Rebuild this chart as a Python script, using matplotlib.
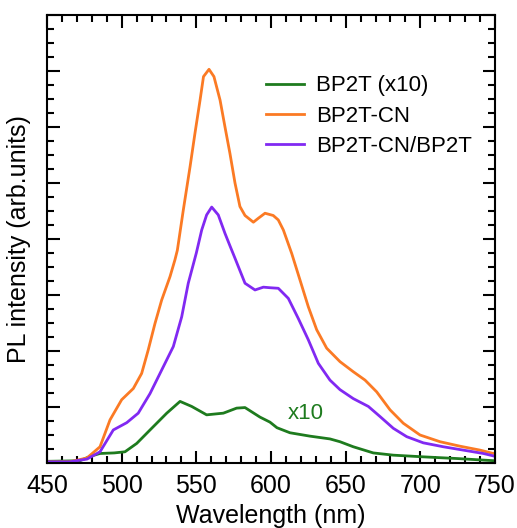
import matplotlib.pyplot as plt
from matplotlib.ticker import MultipleLocator

plt.rcParams['font.family'] = ['Liberation Sans', 'DejaVu Sans']

# BP2T (x10)
wl_bp2t = [450, 472, 479, 485.5, 495, 502.2, 510.1, 519, 530.2, 539.1, 546.9, 556.9,
           568.1, 577, 582.6, 592.6, 599.3, 604, 612.7, 626, 639.5, 646.2, 655.1,
           668.5, 681.9, 702, 724.4, 750]
pl_bp2t = [0.03, 0.04, 0.12, 0.17, 0.18, 0.20, 0.35, 0.59, 0.89, 1.10, 1.01, 0.86,
           0.89, 0.98, 0.99, 0.82, 0.73, 0.63, 0.54, 0.48, 0.43, 0.38, 0.29,
           0.18, 0.14, 0.11, 0.08, 0.04]

# BP2T-CN
wl_cn = [450, 465, 476.8, 485.5, 492.2, 500, 507.8, 513.4, 517.8, 522.3, 526.8, 532.4,
         535.7, 537.3, 541.3, 545.8, 549.1, 552.5, 554.8, 558.5, 561.8, 565.9, 569.2,
         572.5, 575.9, 579.2, 582.6, 588.2, 591.5, 596, 601.5, 604.9, 608.3, 613.9,
         619.4, 625, 630.6, 637.3, 646.2, 655.1, 663, 670.8, 679.7, 688.6, 699.8,
         713.2, 726.6, 740, 748.9, 750]
pl_cn = [0.02, 0.02, 0.09, 0.29, 0.77, 1.13, 1.33, 1.60, 2.02, 2.49, 2.91, 3.33,
         3.63, 3.80, 4.52, 5.29, 5.89, 6.48, 6.90, 7.03, 6.90, 6.48, 6.0,
         5.53, 5.0, 4.58, 4.42, 4.30, 4.37, 4.46, 4.42, 4.34, 4.16, 3.74,
         3.27, 2.79, 2.38, 2.05, 1.81, 1.63, 1.48, 1.27, 0.95, 0.71, 0.50,
         0.38, 0.30, 0.23, 0.17, 0.17]

# BP2T-CN/BP2T
wl_mix = [450, 465, 476.8, 485.5, 494.4, 503.4, 511.1, 519, 526.8, 534.6, 540.2, 544.6,
          550, 553.6, 556.9, 560.3, 564.7, 569.2, 572.5, 576, 582.6, 589.3, 594.9,
          599.3, 604.9, 611.6, 618.3, 625, 631.7, 639.5, 646.2, 655.1, 665.2, 673,
          681.9, 690.9, 702, 715.4, 728.8, 742.2, 750]
pl_mix = [0.02, 0.02, 0.07, 0.20, 0.59, 0.72, 0.89, 1.24, 1.66, 2.08, 2.61, 3.21,
          3.75, 4.16, 4.43, 4.57, 4.43, 4.10, 3.88, 3.65, 3.21, 3.09, 3.14,
          3.13, 3.12, 2.94, 2.58, 2.20, 1.78, 1.48, 1.31, 1.15, 1.01, 0.83,
          0.62, 0.47, 0.36, 0.29, 0.23, 0.17, 0.12]

c_green = '#1e7b1e'
c_orange = '#fb7a24'
c_purple = '#8129f2'

fig = plt.figure(figsize=(5.17, 5.28), dpi=100)
ax = fig.add_axes([0.0909, 0.1231, 0.8665, 0.8485])

kw = dict(lw=2, solid_joinstyle='round')
ax.plot(wl_bp2t, pl_bp2t, color=c_green, label='BP2T (x10)', **kw)
ax.plot(wl_cn, pl_cn, color=c_orange, label='BP2T-CN', **kw)
ax.plot(wl_mix, pl_mix, color=c_purple, label='BP2T-CN/BP2T', **kw)

ax.text(611, 0.89, 'x10', color=c_green, fontsize=16, va='center', ha='left')

ax.set_xlim(450, 750)
ax.set_ylim(0, 8)
ax.xaxis.set_major_locator(MultipleLocator(50))
ax.xaxis.set_minor_locator(MultipleLocator(10))
ax.yaxis.set_major_locator(MultipleLocator(1))
ax.yaxis.set_minor_locator(MultipleLocator(0.25))
ax.tick_params(which='both', direction='in', top=True, right=True, width=1.5)
ax.tick_params(which='major', length=9)
ax.tick_params(which='minor', length=5)
ax.tick_params(axis='x', labelsize=18, pad=8)
ax.tick_params(axis='y', labelleft=False)
for s in ax.spines.values():
    s.set_linewidth(1.5)

ax.set_xlabel('Wavelength (nm)', fontsize=18, labelpad=4)
ax.set_ylabel('PL intensity (arb.units)', fontsize=18, labelpad=8)

ax.legend(loc='upper left', bbox_to_anchor=(0.489, 0.865), frameon=False, fontsize=16,
          handlelength=1.7, handletextpad=0.55, labelspacing=0.41, borderpad=0,
          borderaxespad=0)

fig.savefig('out.png', dpi=100)
